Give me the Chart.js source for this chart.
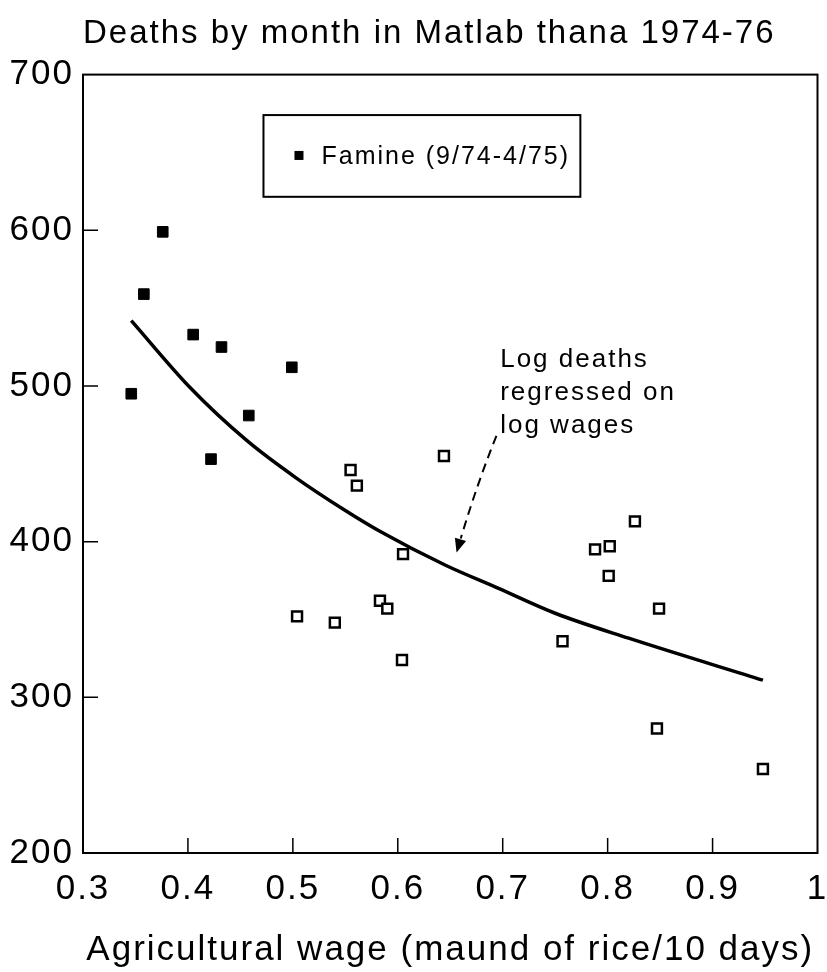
<!DOCTYPE html>
<html>
<head>
<meta charset="utf-8">
<title>Deaths by month in Matlab thana 1974-76</title>
<script src="https://cdn.jsdelivr.net/npm/chart.js@4"></script>
<style>
  html, body { margin: 0; padding: 0; background: #fff; }
  #wrap { width: 827px; height: 972px; }
</style>
</head>
<body>
<div id="wrap"><canvas id="chart" width="827" height="972"></canvas></div>
<script>
// famine months (9/74-4/75): wage vs deaths
const famineWage = [0.346, 0.358, 0.376, 0.405, 0.422, 0.432, 0.458, 0.499];
const famineDeaths = [495, 559, 599, 533, 453, 525, 481, 512];

// other months
const otherWage = [0.504, 0.540, 0.555, 0.561, 0.583, 0.590, 0.604, 0.605, 0.644,
                   0.757, 0.788, 0.801, 0.802, 0.826, 0.847, 0.849, 0.948];
const otherDeaths = [352, 348, 446, 436, 362, 357, 324, 392, 455,
                     336, 395, 378, 397, 413, 280, 357, 254];

// fitted curve (log deaths on log wages)
const fitWage = [0.346, 0.402, 0.456, 0.503, 0.550, 0.582, 0.645, 0.696, 0.750, 0.820, 0.948];
const fitDeaths = [542, 499, 465, 441, 420, 407, 385, 370, 354, 338, 311];

const xTicks = [0.3, 0.4, 0.5, 0.6, 0.7, 0.8, 0.9, 1];
const yTicks = [200, 300, 400, 500, 600, 700];

const titleText = 'Deaths by month in Matlab thana 1974-76';
const xTitle = 'Agricultural wage (maund of rice/10 days)';
const legendText = 'Famine (9/74-4/75)';
const noteLines = ['Log deaths', 'regressed on', 'log wages'];

const FONT = "'Liberation Sans', Arial, Helvetica, sans-serif";
const SPACING = '2px'; // the scanned lettering is set wide

const toPoints = (xs, ys) => xs.map((v, i) => ({ x: v, y: ys[i] }));

// wide lettering for title and axis text, none for the marks
const spacing = {
  id: 'spacing',
  beforeUpdate(chart) { chart.ctx.letterSpacing = SPACING; },
  beforeDraw(chart) { chart.ctx.letterSpacing = SPACING; },
  beforeDatasetsDraw(chart) { chart.ctx.letterSpacing = '0px'; }
};

// frame, inward ticks, legend box and the arrow note
const decorations = {
  id: 'decorations',
  afterDraw(chart) {
    const { ctx, chartArea: a, scales: { x, y } } = chart;
    ctx.save();
    ctx.letterSpacing = '0px';
    ctx.strokeStyle = '#000';
    ctx.lineWidth = 2;
    ctx.strokeRect(a.left, a.top, a.width, a.height);

    ctx.lineWidth = 1.5;
    ctx.beginPath();
    xTicks.slice(1, -1).forEach(v => {
      const px = x.getPixelForValue(v);
      ctx.moveTo(px, a.bottom);
      ctx.lineTo(px, a.bottom - 15);
    });
    yTicks.slice(1, -1).forEach(v => {
      const py = y.getPixelForValue(v);
      ctx.moveTo(a.left, py);
      ctx.lineTo(a.left + 15, py);
    });
    ctx.stroke();

    // legend
    const lx0 = x.getPixelForValue(0.472), lx1 = x.getPixelForValue(0.774);
    const ly0 = y.getPixelForValue(674), ly1 = y.getPixelForValue(621.5);
    ctx.lineWidth = 2;
    ctx.strokeRect(lx0, ly0, lx1 - lx0, ly1 - ly0);
    const midY = (ly0 + ly1) / 2;
    ctx.fillStyle = '#000';
    ctx.fillRect(lx0 + 31, midY - 5, 9, 9);
    ctx.letterSpacing = SPACING;
    ctx.font = '25px ' + FONT;
    ctx.textBaseline = 'middle';
    ctx.textAlign = 'left';
    ctx.fillText(legendText, lx0 + 58, midY + 1);

    // note text
    ctx.font = '26px ' + FONT;
    const tx = x.getPixelForValue(0.6976);
    const ty = y.getPixelForValue(512);
    ctx.textBaseline = 'alphabetic';
    noteLines.forEach((line, i) => ctx.fillText(line, tx, ty + i * 33));
    ctx.letterSpacing = '0px';

    // dashed arrow
    const sx = x.getPixelForValue(0.694), sy = y.getPixelForValue(468);
    const ex = x.getPixelForValue(0.66), ey = y.getPixelForValue(402);
    const hx = x.getPixelForValue(0.656), hy = y.getPixelForValue(393);
    ctx.lineWidth = 2;
    ctx.setLineDash([9, 6]);
    ctx.beginPath();
    ctx.moveTo(sx, sy);
    ctx.quadraticCurveTo(sx - 20, sy + 50, ex, ey);
    ctx.stroke();
    ctx.setLineDash([]);
    const ang = Math.atan2(hy - ey, hx - ex);
    ctx.beginPath();
    ctx.moveTo(hx, hy);
    ctx.lineTo(hx - 15 * Math.cos(ang - 0.4), hy - 15 * Math.sin(ang - 0.4));
    ctx.lineTo(hx - 15 * Math.cos(ang + 0.4), hy - 15 * Math.sin(ang + 0.4));
    ctx.closePath();
    ctx.fill();
    ctx.restore();
  }
};

new Chart(document.getElementById('chart'), {
  type: 'scatter',
  data: {
    datasets: [
      {
        label: 'Famine (9/74-4/75)',
        data: toPoints(famineWage, famineDeaths),
        pointStyle: 'rect',
        pointRadius: 7.5,
        backgroundColor: '#000',
        borderColor: '#000',
        borderWidth: 1
      },
      {
        label: 'Other months',
        data: toPoints(otherWage, otherDeaths),
        pointStyle: 'rect',
        pointRadius: 7,
        backgroundColor: '#fff',
        borderColor: '#000',
        borderWidth: 2.5
      },
      {
        label: 'Log deaths regressed on log wages',
        type: 'line',
        data: toPoints(fitWage, fitDeaths),
        showLine: true,
        pointRadius: 0,
        borderColor: '#000',
        borderWidth: 3.5,
        cubicInterpolationMode: 'monotone',
        fill: false
      }
    ]
  },
  options: {
    responsive: false,
    animation: false,
    devicePixelRatio: 1,
    layout: { padding: { left: 0, right: 7, top: 0, bottom: 0 } },
    plugins: {
      legend: { display: false },
      tooltip: { enabled: false },
      title: {
        display: true,
        text: titleText,
        color: '#000',
        fullSize: false,
        align: 'start',
        font: { family: FONT, size: 33, weight: 'normal' },
        padding: { top: 14, bottom: 21 }
      }
    },
    scales: {
      x: {
        type: 'linear',
        min: 0.3,
        max: 1,
        grid: { display: false, drawTicks: false },
        border: { display: false },
        afterBuildTicks: s => { s.ticks = xTicks.map(v => ({ value: v })); },
        afterFit: s => { s.height = 119; s.paddingLeft = 0; s.paddingRight = 0; },
        ticks: {
          color: '#000',
          padding: 15,
          maxRotation: 0,
          autoSkip: false,
          font: { family: FONT, size: 35 },
          callback: v => (v === 1 ? '1' : v.toFixed(1))
        },
        title: {
          display: true,
          text: xTitle,
          color: '#000',
          font: { family: FONT, size: 35 },
          padding: { top: 0, bottom: 1 }
        }
      },
      y: {
        type: 'linear',
        min: 200,
        max: 700,
        grid: { display: false, drawTicks: false },
        border: { display: false },
        afterBuildTicks: s => { s.ticks = yTicks.map(v => ({ value: v })); },
        afterFit: s => { s.width = 83; },
        ticks: {
          color: '#000',
          padding: 9,
          font: { family: FONT, size: 35 }
        }
      }
    }
  },
  plugins: [spacing, decorations]
});
</script>
</body>
</html>
